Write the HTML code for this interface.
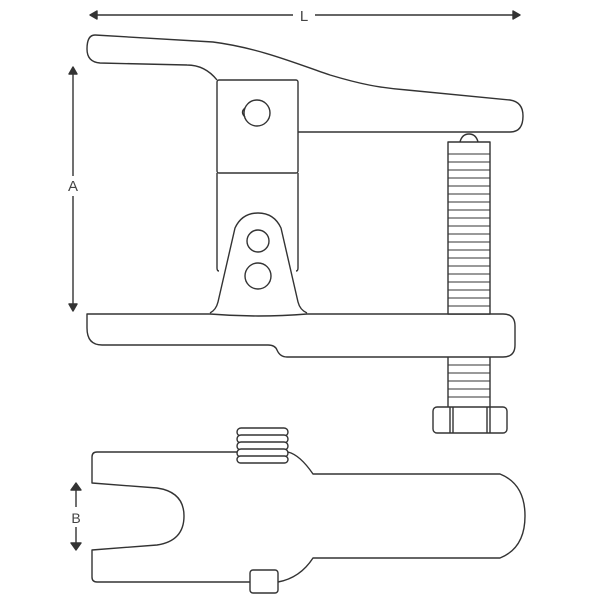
<!DOCTYPE html>
<html><head><style>html,body{margin:0;padding:0;background:#fff}svg{display:block}</style></head>
<body>
<svg width="600" height="600" viewBox="0 0 600 600" xmlns="http://www.w3.org/2000/svg" fill="none" stroke="#333" stroke-width="1.4" stroke-linejoin="round">
<!-- L dimension -->
<line x1="92" y1="15" x2="293" y2="15"/><line x1="315" y1="15" x2="518" y2="15"/>
<path d="M90 15 L97 11 L97 19 Z M520 15 L513 11 L513 19 Z" fill="#333"/>
<text x="304" y="21" font-family="Liberation Sans, sans-serif" font-size="15" fill="#444" stroke="none" text-anchor="middle">L</text>
<!-- A dimension -->
<line x1="73" y1="70" x2="73" y2="176"/><line x1="73" y1="196" x2="73" y2="308"/>
<path d="M73 67 L69 74 L77 74 Z M73 311 L69 304 L77 304 Z" fill="#333"/>
<text x="73" y="191" font-family="Liberation Sans, sans-serif" font-size="15" fill="#444" stroke="none" text-anchor="middle">A</text>
<!-- upper handle -->
<path d="M95 35 L213 42 C260 48 300 65 330 75 C360 84 380 88 407 90 L510 100 Q523 102 523 116 Q523 132 510 132 L298 132"/>
<path d="M217 80 Q205 65 187 65 L100 63 Q87 62 87 49 Q87 35 95 35"/>
<!-- block -->
<rect x="217" y="80" width="81" height="93" rx="2"/>
<path d="M217 173 L217 268 Q217 271 219 271 M298 173 L298 268 Q298 271 296 271"/>
<circle cx="257" cy="113" r="13"/>
<path d="M245 108 Q240 112 245 117"/>
<!-- bracket -->
<path d="M210 313 Q216 310 218 302 L235 228 Q242 213 258 213 Q274 213 281 228 L298 302 Q300 310 307 313"/>
<circle cx="258" cy="241" r="11"/>
<circle cx="258" cy="276" r="13"/>
<!-- lower jaw -->
<path d="M87 314 L210 314 Q258 318 307 314 L503 314 Q515 314 515 326 L515 345 Q515 357 503 357 L287 357 Q280 357 277 350 Q275 345 268 345 L102 345 Q87 345 87 328 Z"/>
<!-- screw -->
<path d="M460 142 Q462 134 469 134 Q476 134 478 142"/>
<rect x="448" y="142" width="42" height="172" fill="#fff"/>
<g stroke-width="1.1">
<path d="M448 154 H490 M448 162 H490 M448 170 H490 M448 178 H490 M448 186 H490 M448 194 H490 M448 202 H490 M448 210 H490 M448 218 H490 M448 226 H490 M448 234 H490 M448 242 H490 M448 250 H490 M448 258 H490 M448 266 H490 M448 274 H490 M448 282 H490 M448 290 H490 M448 298 H490 M448 306 H490"/>
<path d="M448 365 H490 M448 373 H490 M448 381 H490 M448 389 H490 M448 397 H490"/>
</g>
<path d="M448 357 V407 M490 357 V407"/>
<!-- nut -->
<rect x="433" y="407" width="74" height="26" rx="4" fill="#fff"/>
<path d="M450 407 V433 M453 407 V433 M487 407 V433 M490 407 V433"/>
<!-- bottom view -->
<path d="M237 452 L97 452 Q92 452 92 457 L92 483 L157 488 Q184 492 184 516 Q184 541 157 545 L92 550 L92 577 Q92 582 97 582 L250 582"/>
<path d="M278 582 Q300 578 313 558 L500 558 Q525 548 525 516 Q525 484 500 474 L313 474 Q300 455 288 452"/>
<g fill="#fff">
<rect x="237" y="428" width="51" height="8" rx="4"/>
<rect x="237" y="435" width="51" height="8" rx="4"/>
<rect x="237" y="442" width="51" height="8" rx="4"/>
<rect x="237" y="449" width="51" height="8" rx="4"/>
<rect x="237" y="456" width="51" height="7" rx="3.5"/>
<rect x="250" y="570" width="28" height="23" rx="3"/>
</g>
<!-- B dimension -->
<line x1="76" y1="487" x2="76" y2="507"/><line x1="76" y1="527" x2="76" y2="546"/>
<path d="M76 483 L71 490 L81 490 Z M76 550 L71 543 L81 543 Z" fill="#333"/>
<text x="76" y="523" font-family="Liberation Sans, sans-serif" font-size="14" fill="#444" stroke="none" text-anchor="middle">B</text>
</svg>
</body></html>
